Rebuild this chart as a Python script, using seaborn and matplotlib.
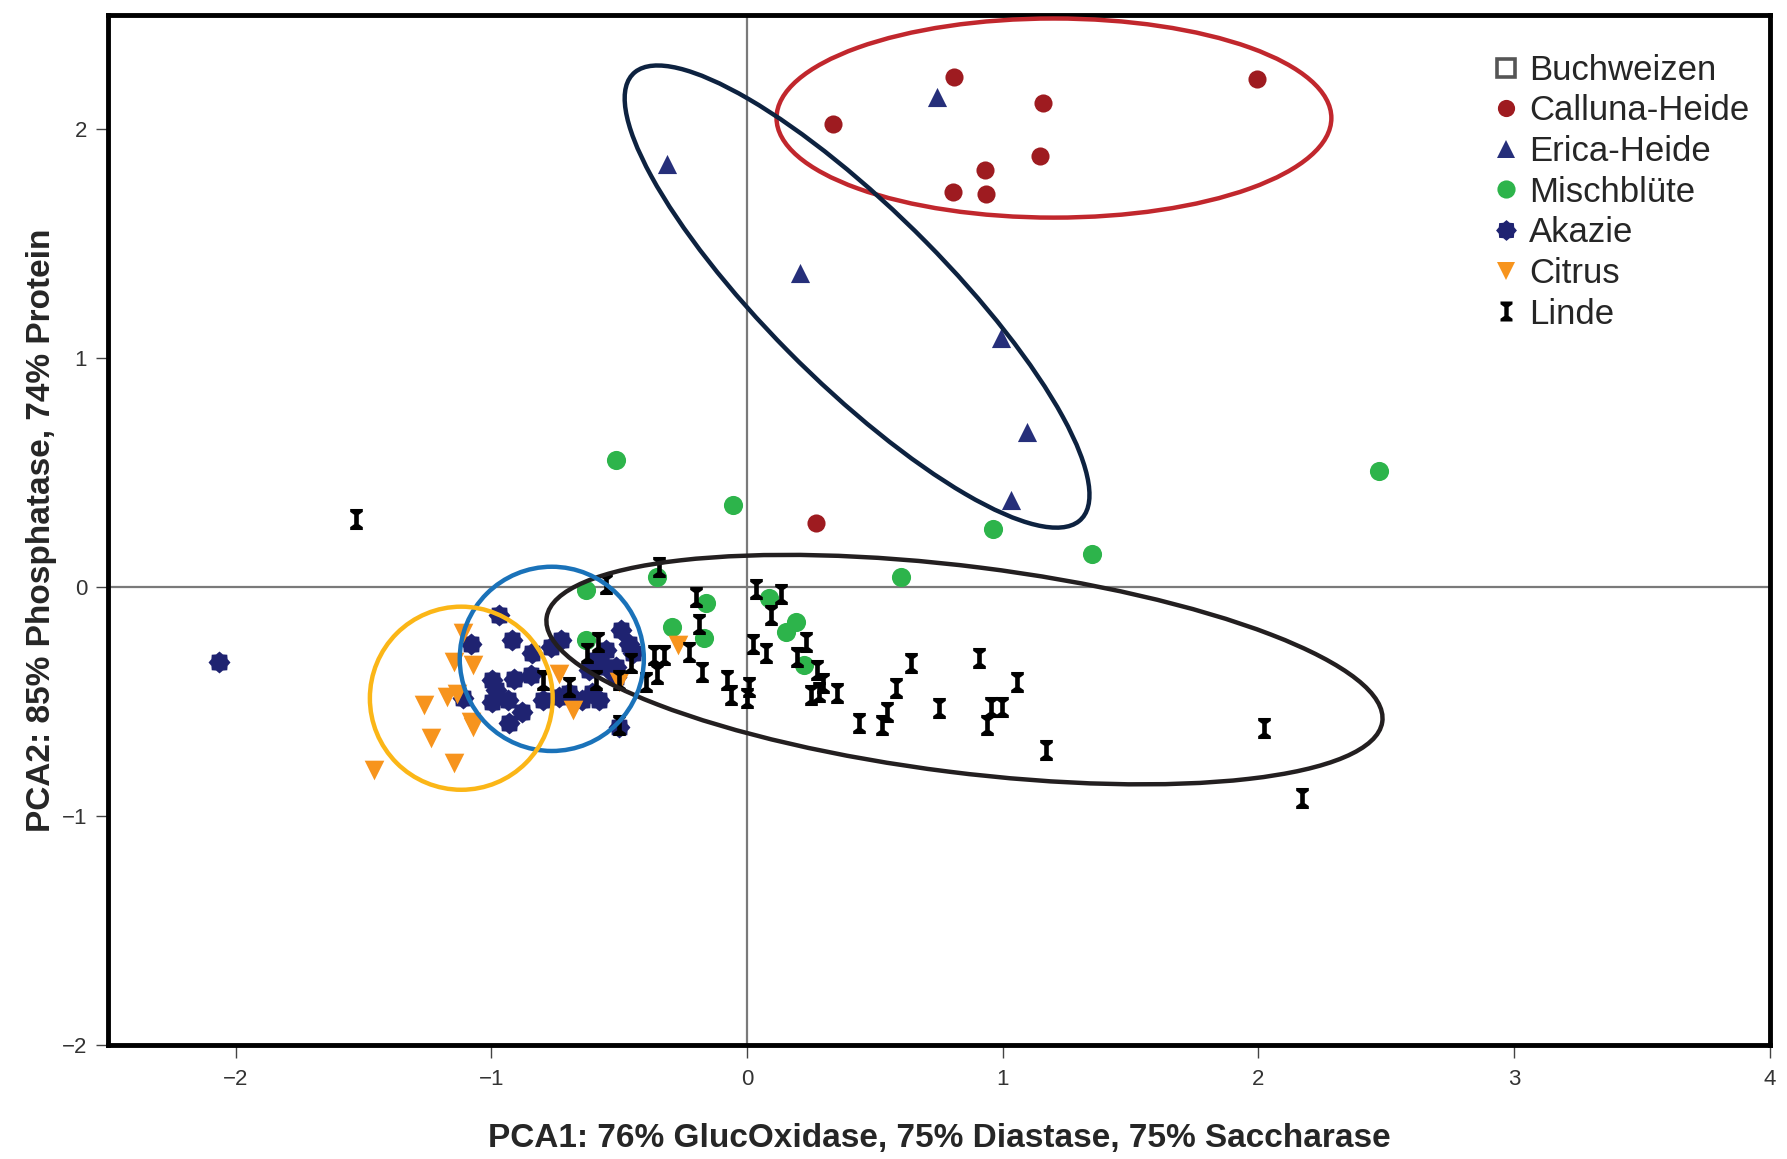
import matplotlib
matplotlib.use("Agg")
import matplotlib.pyplot as plt
from matplotlib.patches import Ellipse
from matplotlib.lines import Line2D
import numpy as np
import pandas as pd
import seaborn as sns

# PCA scores
calluna_x = [0.81, 1.995, 1.158, 0.337, 1.144, 0.930, 0.805, 0.935, 0.271]
calluna_y = [2.229, 2.219, 2.114, 2.025, 1.886, 1.821, 1.726, 1.717, 0.279]

erica_x = [0.743, -0.313, 0.208, 0.993, 1.095, 1.032]
erica_y = [2.144, 1.851, 1.373, 1.090, 0.677, 0.383]

misch_x = [-0.514, -0.055, 2.472, 0.961, 1.349, 0.600, -0.631, -0.351, -0.162,
           -0.292, -0.168, -0.631, 0.086, 0.190, 0.151, 0.223]
misch_y = [0.557, 0.358, 0.508, 0.254, 0.144, 0.045, -0.013, 0.045, -0.071,
           -0.173, -0.224, -0.231, -0.049, -0.151, -0.195, -0.340]

akazie_x = [-2.065, -0.970, -0.918, -1.081, -0.840, -0.768, -0.729, -0.996, -0.911,
            -0.846, -0.983, -0.996, -0.937, -0.879, -0.931, -0.800, -1.113, -0.696,
            -0.494, -0.461, -0.553, -0.592, -0.553, -0.513, -0.605, -0.644, -0.579,
            -0.500, -0.448, -0.513, -0.618, -0.735]
akazie_y = [-0.326, -0.122, -0.231, -0.246, -0.289, -0.260, -0.231, -0.406, -0.399,
            -0.384, -0.450, -0.500, -0.493, -0.544, -0.595, -0.493, -0.486, -0.464,
            -0.188, -0.246, -0.275, -0.319, -0.348, -0.348, -0.464, -0.493, -0.493,
            -0.610, -0.289, -0.392, -0.362, -0.479]

citrus_x = [-1.113, -1.146, -1.074, -1.263, -1.172, -1.133, -1.074, -1.081, -1.237,
            -1.146, -1.459, -0.735, -0.683, -0.272, -0.500]
citrus_y = [-0.202, -0.326, -0.340, -0.515, -0.479, -0.467, -0.610, -0.588, -0.660,
            -0.770, -0.799, -0.377, -0.537, -0.253, -0.413]

linde_x = [-1.53, -0.553, -0.344, -0.201, -0.188, -0.585, -0.625, -0.364, -0.325,
           -0.227, -0.455, -0.351, -0.396, -0.175, -0.592, -0.500, -0.696, -0.800,
           -0.077, -0.064, 0.034, 0.132, 0.093, 0.021, 0.073, 0.229, 0.197, 0.275,
           0.295, 0.249, 0.282, 0.353, 0.008, 0.001, 0.438, 0.529, 0.549, 0.581,
           0.640, 0.907, 1.057, 0.751, 0.953, 0.998, 0.940, 1.168, 2.022, 2.172, -0.50]
linde_y = [0.30, 0.016, 0.089, -0.042, -0.159, -0.239, -0.289, -0.297, -0.297,
           -0.282, -0.333, -0.377, -0.413, -0.370, -0.406, -0.406, -0.435, -0.406,
           -0.406, -0.471, -0.006, -0.028, -0.122, -0.246, -0.289, -0.239, -0.304, -0.362,
           -0.420, -0.471, -0.457, -0.464, -0.435, -0.486, -0.595, -0.602, -0.544, -0.442,
           -0.333, -0.311, -0.413, -0.529, -0.522, -0.522, -0.602, -0.711, -0.617, -0.922, -0.60]

buchweizen_x = []
buchweizen_y = []

labels = ["Buchweizen", "Calluna-Heide", "Erica-Heide", "Mischblüte", "Akazie", "Citrus", "Linde"]
xs = [buchweizen_x, calluna_x, erica_x, misch_x, akazie_x, citrus_x, linde_x]
ys = [buchweizen_y, calluna_y, erica_y, misch_y, akazie_y, citrus_y, linde_y]
colors = ["#ffffff", "#9e1b20", "#262f7a", "#2db44b", "#1f2371", "#f7941d", "#000000"]

# custom marker shapes
ang = np.linspace(0, 2 * np.pi, 17)[:-1]
rad = np.where(np.arange(16) % 2 == 0, 1.0, 0.8)
gear = list(zip(rad * np.cos(ang), rad * np.sin(ang)))
ibar = [(-0.6, 1), (0.6, 1), (0.6, 0.72), (0.22, 0.45), (0.22, -0.45), (0.6, -0.72),
        (0.6, -1), (-0.6, -1), (-0.6, -0.72), (-0.22, -0.45), (-0.22, 0.45), (-0.6, 0.72)]
markers = ["s", "o", "^", "o", gear, "v", ibar]
sizes = [130, 170, 190, 190, 250, 200, 230]

# ellipses drawn around groups (centre, width, height, angle) in data units
ell_centers = [(1.2, 2.05), (0.43, 1.27), (0.85, -0.36), (-0.764, -0.313), (-1.118, -0.485)]
ell_w = [2.17, 2.62, 3.30, 0.72, 0.715]
ell_h = [0.87, 0.72, 0.90, 0.805, 0.80]
ell_ang = [0, -48.5, -8, 0, 0]
ell_col = ["#c1272d", "#0d2240", "#231f20", "#1a72b9", "#fbb617"]

sns.set_style("white")
plt.rcParams["font.family"] = ["Liberation Sans", "DejaVu Sans"]

fig = plt.figure(figsize=(17.87, 11.59), dpi=100)
ax = fig.add_axes([0.0604, 0.0984, 0.930, 0.8886])

ax.axhline(0, color="#7a7a7a", lw=1.6, zorder=1)
ax.axvline(0, color="#7a7a7a", lw=1.6, zorder=1)

for lab, x, y, c, m, s in zip(labels, xs, ys, colors, markers, sizes):
    if len(x) == 0:
        continue
    df = pd.DataFrame({"x": x, "y": y})
    sns.scatterplot(data=df, x="x", y="y", color=c, marker=m, s=s,
                    linewidth=0, ax=ax, zorder=3, legend=False)

for cen, w, h, a, c in zip(ell_centers, ell_w, ell_h, ell_ang, ell_col):
    ax.add_patch(Ellipse(cen, w, h, angle=a, fill=False, edgecolor=c, lw=3.2, zorder=4))

ax.set_xlim(-2.5, 4)
ax.set_ylim(-2, 2.5)
ax.set_xticks([-2, -1, 0, 1, 2, 3, 4])
ax.set_yticks([-2, -1, 0, 1, 2])
ax.tick_params(axis="both", direction="out", length=9, width=1, color="#444444",
               labelsize=16, labelcolor="#333333", left=True, bottom=True, pad=6)
ax.tick_params(axis="x", pad=8)
for sp in ax.spines.values():
    sp.set_linewidth(3.5)
    sp.set_color("black")

ax.set_xlabel("PCA1: 76% GlucOxidase, 75% Diastase, 75% Saccharase",
              fontsize=24, fontweight="bold", labelpad=24)
ax.set_ylabel("PCA2: 85% Phosphatase, 74% Protein",
              fontsize=24, fontweight="bold", labelpad=3)

handles = []
for lab, c, m, s in zip(labels, colors, markers, sizes):
    if lab == "Buchweizen":
        h = Line2D([], [], marker="s", linestyle="none", markersize=13,
                   markerfacecolor="white", markeredgecolor="#555555", markeredgewidth=2.6)
    else:
        h = Line2D([], [], marker=m, linestyle="none", markersize=np.sqrt(s) * 0.95,
                   markerfacecolor=c, markeredgewidth=0)
    handles.append(h)
ax.legend(handles, labels, loc="upper right", bbox_to_anchor=(0.996, 0.976),
          frameon=False, fontsize=25, labelspacing=0.22, handletextpad=0.2,
          handlelength=0.9, borderaxespad=0)

fig.savefig("out.png", dpi=100)
